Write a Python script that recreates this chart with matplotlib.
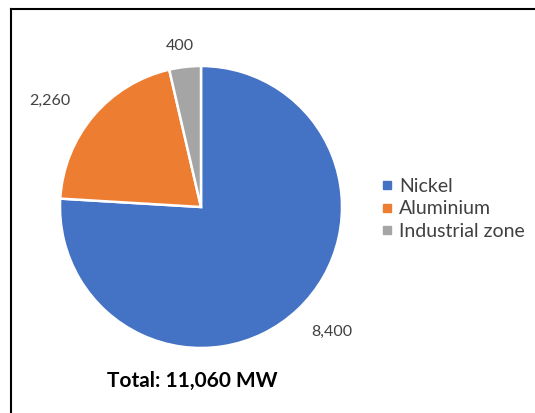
import matplotlib.pyplot as plt
from matplotlib.lines import Line2D
import numpy as np

plt.rcParams['font.family'] = ['Lato', 'DejaVu Sans']

labels = ['Nickel', 'Aluminium', 'Industrial zone']
values = [8400, 2260, 400]
value_text = ['8,400', '2,260', '400']
colors = ['#4472C4', '#ED7D31', '#A5A5A5']
total_text = 'Total: 11,060 MW'

fig = plt.figure(figsize=(5.35, 4.13), dpi=100)
ax = fig.add_axes([60/535, 65/413, 282/535, 282/413])

wedges, _ = ax.pie(values, colors=colors, startangle=90, counterclock=False,
                   wedgeprops=dict(edgecolor='white', linewidth=1.8))
ax.set_xlim(-1, 1)
ax.set_ylim(-1, 1)
ax.set_aspect('equal')
ax.axis('off')

# data labels, placed a bit outside each wedge
dist = [1.28, 1.31, 1.15]
shift = [3, 5, 1]
for w, t, d, s in zip(wedges, value_text, dist, shift):
    ang = np.deg2rad((w.theta1 + w.theta2) / 2 + s)
    ax.text(d*np.cos(ang), d*np.sin(ang), t, ha='center', va='center',
            fontsize=11.5, color='#404040')

handles = [Line2D([], [], marker='s', linestyle='none', markersize=6,
                  color=c) for c in colors]
fig.legend(handles, labels, loc='center left', bbox_to_anchor=(364/535, 1-209/413),
           frameon=False, fontsize=14, handlelength=0.55, handletextpad=0.35,
           labelspacing=0.28, labelcolor='#404040')

fig.text(192/535, 1-381/413, total_text, ha='center', va='center',
         fontsize=15, fontweight='bold', color='black')

# chart border (only top and left visible in crop)
fig.add_artist(Line2D([11/535, 11/535], [0, 1-9/413], color='black', lw=1.5))
fig.add_artist(Line2D([11/535, 1], [1-9/413, 1-9/413], color='black', lw=1.5))

fig.savefig('out.png', dpi=100)
